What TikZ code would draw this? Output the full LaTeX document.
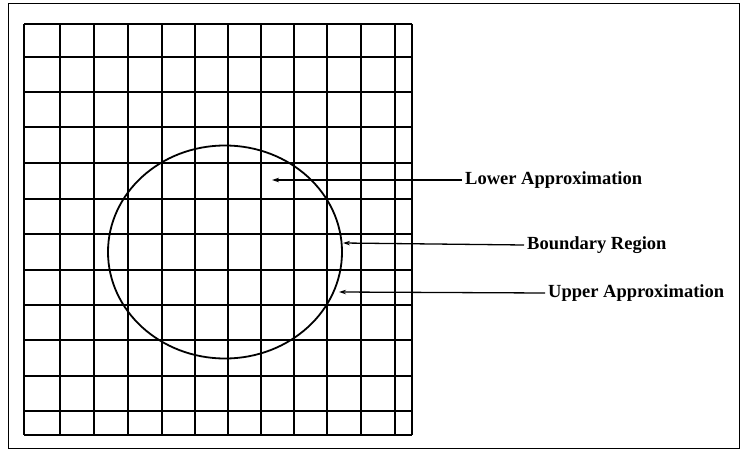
\documentclass[tikz,border=0pt]{standalone}
\usepackage{fontspec}
\setmainfont{Liberation Serif}
\usetikzlibrary{arrows.meta,shapes.geometric}
\begin{document}
\begin{tikzpicture}[x=1pt,y=-1pt,
  gridline/.style={line width=2.4pt},
  frameline/.style={line width=1pt},
  roundline/.style={line width=1.8pt},
  arrowline/.style={line width=1.3pt,-{Stealth[length=7pt,width=4.5pt]}},
  lbl/.style={anchor=west,inner sep=3pt,font=\fontsize{18.5}{22}\selectfont\bfseries}]
\useasboundingbox (0,0) rectangle (740,452);
\draw[frameline] (8,4) rectangle (739.5,448);
\foreach \x in {24,60,94,128,162,195,228,261,294,327,361,395,412}
  \draw[gridline] (\x,24) -- (\x,435);
\foreach \y in {24,57,92,127,163,199,234,270,305,340,376,411,435}
  \draw[gridline] (24,\y) -- (412,\y);
\node[draw,roundline,ellipse,minimum width=234pt,minimum height=213pt,inner sep=0pt] (set) at (225,252) {};
\coordinate (tl) at (272,180);
\coordinate (tb) at (343,243);
\coordinate (tu) at (339,292);
\node[lbl] (low) at (462,180) {Lower Approximation};
\node[lbl] (bnd) at (524,245) {Boundary Region};
\node[lbl] (upp) at (545,293) {Upper Approximation};
\draw[arrowline] (low.west) -- (tl);
\draw[arrowline] (bnd.west) -- (tb);
\draw[arrowline] (upp.west) -- (tu);
\end{tikzpicture}
\end{document}
